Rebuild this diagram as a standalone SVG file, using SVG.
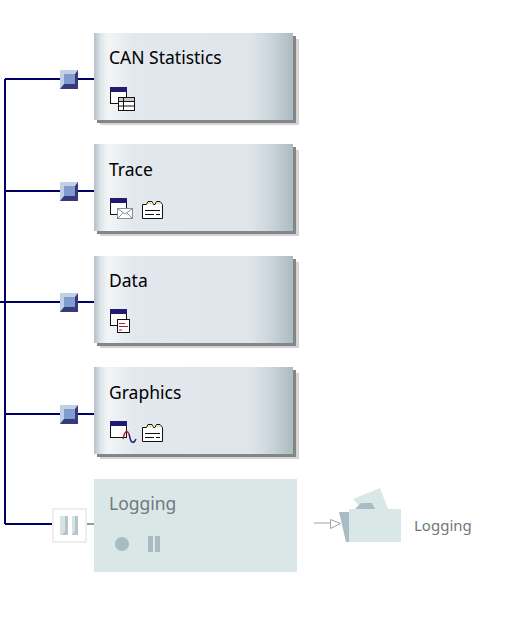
<svg xmlns="http://www.w3.org/2000/svg" width="518" height="642" viewBox="0 0 518 642">
<style>
.wire{fill:none;stroke:#000066;stroke-width:2}
.t{font-family:"Noto Sans",sans-serif;font-size:17.500px;fill:#000}
.tg{font-family:"Noto Sans",sans-serif;fill:#70797e}
.ln{fill:none;stroke:#111;stroke-width:1}
</style>
<defs>
<linearGradient id="g" x1="0" x2="1" y1="0" y2="0">
<stop offset="0" stop-color="#b4c0c8"/><stop offset=".035" stop-color="#e0e7ea"/><stop offset=".07" stop-color="#f2f5f6"/><stop offset=".2" stop-color="#e2e8ed"/><stop offset=".78" stop-color="#dfe6eb"/><stop offset=".88" stop-color="#ccd7dd"/><stop offset="1" stop-color="#adbac2"/>
</linearGradient>
<g id="box">
<rect x="6" y="6" width="199" height="86" fill="#d4d4d4"/>
<rect x="3" y="3" width="199" height="87" fill="#858585"/>
<rect width="199" height="87" fill="url(#g)"/>
</g>
<g id="port">
<rect width="18" height="19" fill="#c0d0e6"/>
<path d="M18 0V19H0L4 14H15V4Z" fill="#38387c"/>
<rect x="4" y="4" width="11" height="10" fill="#7f9ccb"/>
</g>
<g id="win">
<rect x=".5" y=".5" width="16" height="16" fill="#fff" stroke="#111"/>
<rect width="17" height="5" fill="#211a70"/>
</g>
<g id="note">
<path d="M.5 3.500H4.500L6 .5H10L11.500 3.500H13L14.500 .5H18L20.500 3.500V17.500H.5Z" fill="#fff" stroke="#111"/>
<path d="M6.500 1.200H10L11 3.200H5.500ZM15 1.200H18L19.500 3.200H14Z" fill="#eadf9c"/>
<path d="M3 9.500H18M3 13.500H12M14 13.500H18" stroke="#111"/>
</g>
</defs>
<g id="connectors">
<path class="wire" d="M5 79V524M5 79H60M78 79H94M5 191H60M78 191H94M0 302H60M78 302H94M5 414H60M78 414H94M5 524H53"/>
<path d="M78 524H94" stroke="#999" stroke-width="2" fill="none"/>
<path d="M314 523H330" stroke="#9aa5ab" fill="none"/>
<path d="M330.500 519.500L340.500 523.500L330.500 528.500Z" fill="#fff" stroke="#9aa5ab"/>
</g>
<g id="can-statistics">
<use href="#port" x="60" y="70"/><use href="#box" x="94" y="33"/>
<text class="t" x="109" y="64">CAN Statistics</text>
<use href="#win" x="110" y="87"/>
<g transform="translate(118 97)"><rect x=".5" y=".5" width="16" height="13" fill="#fff" stroke="#111"/><rect x="1" y="1" width="15" height="3" fill="#c8c8c8"/><path d="M.5 4.500H16.500M.5 9H16.500M5.500 .5V13.500" class="ln"/></g>
</g>
<g id="trace">
<use href="#port" x="60" y="182"/><use href="#box" x="94" y="144"/>
<text class="t" x="109" y="176">Trace</text>
<use href="#win" x="110" y="198"/>
<g transform="translate(117 208)"><rect x=".5" y=".5" width="15" height="10" fill="#fff" stroke="#8a8f94"/><path d="M.5 .5L8 6L15.500 .5M.5 10.500L6 5M15.500 10.500L10 5" fill="none" stroke="#8a8f94"/></g>
<use href="#note" x="142" y="201"/>
</g>
<g id="data">
<use href="#port" x="60" y="293"/><use href="#box" x="94" y="256"/>
<text class="t" x="109" y="287">Data</text>
<use href="#win" x="110" y="309"/>
<g transform="translate(117 319)"><rect x=".5" y=".5" width="12" height="13" fill="#fff" stroke="#111"/><path d="M2 4.500H8M2 7.500H11M2 11H5" stroke="#b02030" fill="none"/></g>
</g>
<g id="graphics">
<use href="#port" x="60" y="405"/><use href="#box" x="94" y="367"/>
<text class="t" x="109" y="399">Graphics</text>
<use href="#win" x="110" y="421"/>
<path d="M129 434C130 437 130 441 132 442C134 443 135 441 136 439" fill="none" stroke="#2a2580" stroke-width="1.500"/>
<path d="M123 439C125 430 127 430 129 434" fill="none" stroke="#b02030" stroke-width="1.500"/>
<use href="#note" x="142" y="424"/>
</g>
<g id="logging">
<rect x="53" y="509" width="33" height="33" fill="#fff" stroke="#eeeeee" stroke-width="2"/>
<rect x="60" y="516" width="8" height="19" fill="#d6e3e5"/><path d="M68 516V535H62L65 531V516Z" fill="#b5c6ca"/>
<rect x="72" y="516" width="6" height="19" fill="#d6e3e5"/><path d="M78 516V535H72L75 531V516Z" fill="#b5c6ca"/>
<rect x="94" y="479" width="203" height="93" fill="#dae7e7"/>
<text class="tg" x="109" y="510" font-size="17.500px">Logging</text>
<circle cx="122" cy="544" r="7" fill="#a9bcc5"/>
<rect x="148" y="536" width="5" height="16" fill="#a9bcc5"/><rect x="155" y="536" width="5" height="16" fill="#a9bcc5"/>
</g>
<g id="logging-folder">
<path d="M339 512H349V542H346Z" fill="#a9bcc5"/>
<path d="M353 499L380 488L388 509H362Z" fill="#dae7e7"/>
<path d="M355 509L361 503H372L375 509Z" fill="#a9bcc5"/>
<rect x="349" y="509" width="52" height="33" fill="#dae7e7"/>
<text class="tg" x="414" y="530.500" font-size="15px">Logging</text>
</g>
</svg>
